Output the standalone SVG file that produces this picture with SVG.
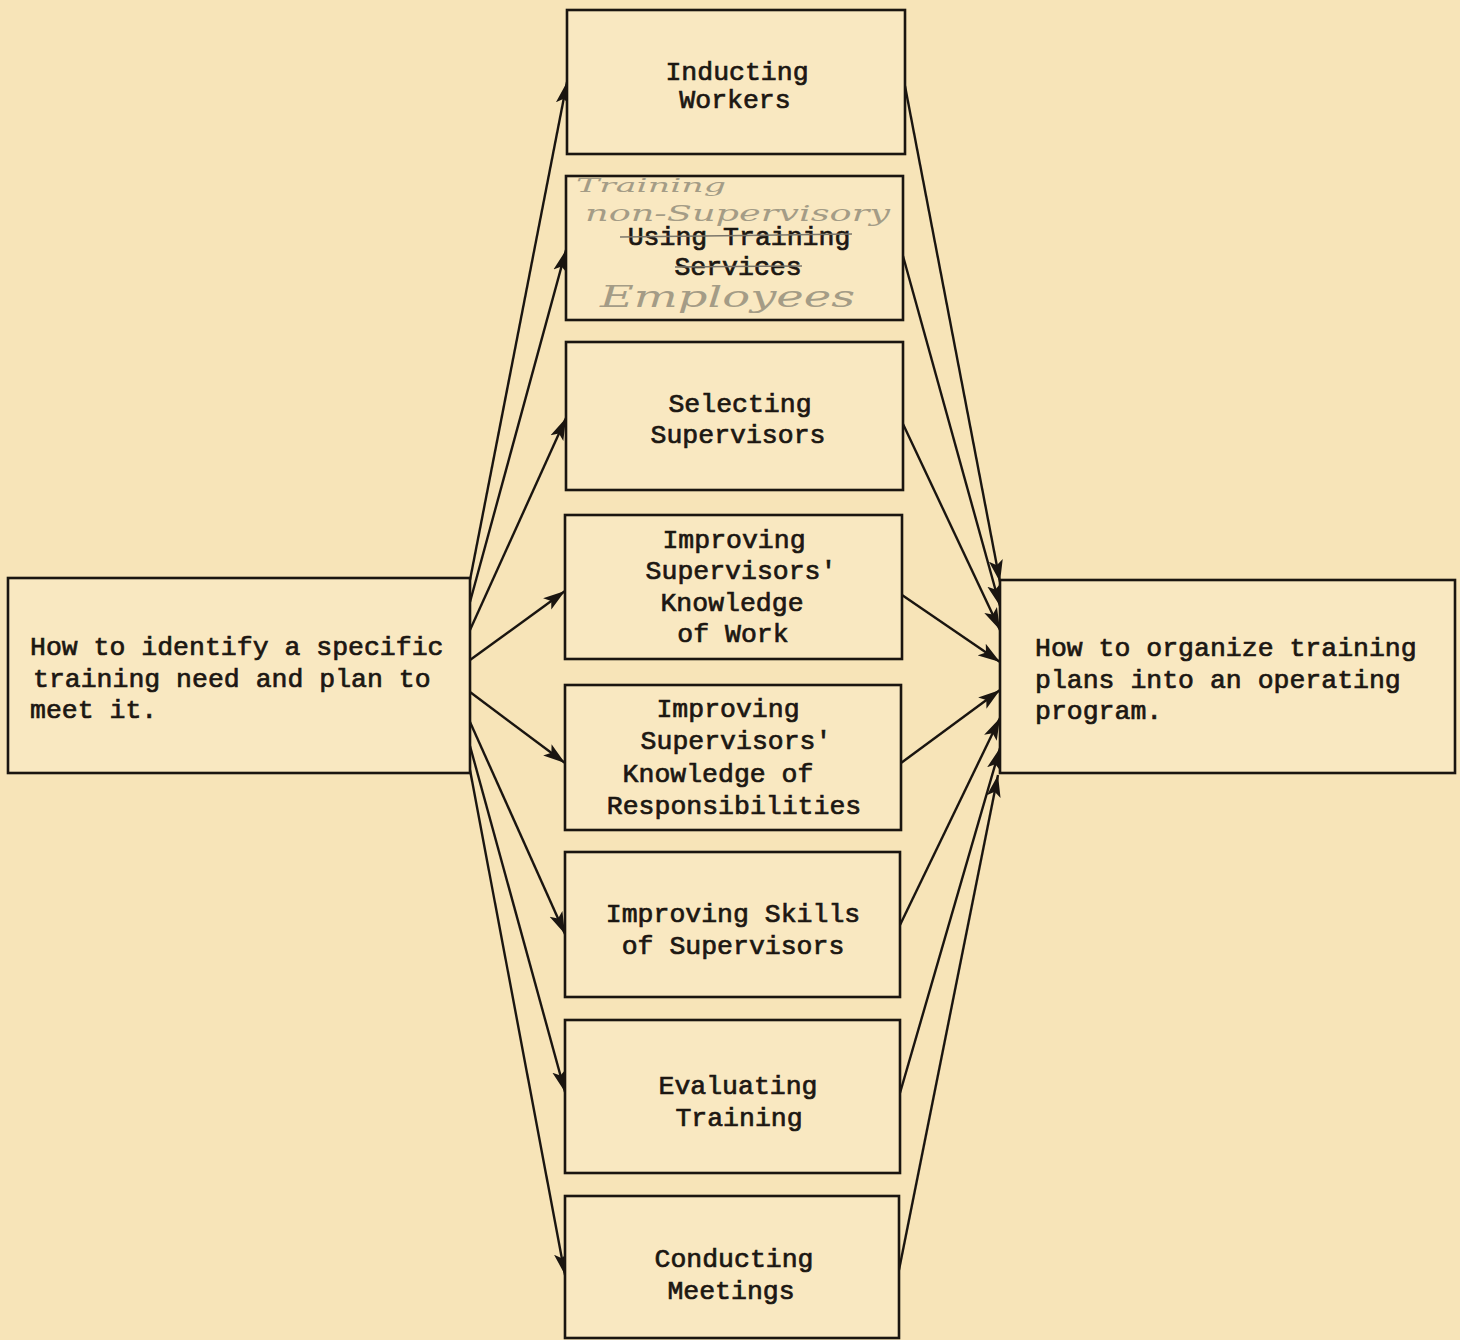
<svg xmlns="http://www.w3.org/2000/svg" width="1460" height="1340" viewBox="0 0 1460 1340">
<defs>
<marker id="ah" markerUnits="userSpaceOnUse" markerWidth="24" markerHeight="16" refX="22" refY="8" orient="auto"><path d="M0,1 L22,8 L0,15 L5,8 Z" fill="#1a1510"/></marker>
<style>
.box{fill:#f9e8c1;stroke:#1a1510;stroke-width:2.6}
.t{font-family:"Liberation Mono","DejaVu Sans Mono",monospace;font-size:26.5px;fill:#1c1712;stroke:#1c1712;stroke-width:0.7}
.m{text-anchor:middle}
.c{stroke:#1a1510;stroke-width:2.4;fill:none;marker-end:url(#ah)}
.hw{font-family:"DejaVu Serif",serif;font-style:italic;fill:#8f8a78;opacity:0.8}
.pen{stroke:#7a756a;stroke-width:1.5;fill:none}
</style>
</defs>
<rect width="1460" height="1340" fill="#f7e4b8"/>
<g id="connectors">
<line class="c" x1="470" y1="580" x2="567" y2="82"/>
<line class="c" x1="470" y1="602" x2="566" y2="250"/>
<line class="c" x1="470" y1="630" x2="566" y2="418"/>
<line class="c" x1="470" y1="660" x2="565" y2="591"/>
<line class="c" x1="470" y1="692" x2="565" y2="763"/>
<line class="c" x1="470" y1="722" x2="565" y2="934"/>
<line class="c" x1="470" y1="746" x2="565" y2="1092"/>
<line class="c" x1="470" y1="770" x2="565" y2="1275"/>
<line class="c" x1="905" y1="86" x2="1000" y2="582"/>
<line class="c" x1="903" y1="256" x2="1000" y2="606"/>
<line class="c" x1="903" y1="424" x2="1000" y2="630"/>
<line class="c" x1="902" y1="595" x2="1000" y2="662"/>
<line class="c" x1="901" y1="763" x2="1000" y2="690"/>
<line class="c" x1="900" y1="925" x2="1000" y2="718"/>
<line class="c" x1="900" y1="1093" x2="1000" y2="748"/>
<line class="c" x1="899" y1="1270" x2="998" y2="775"/>
</g>
<g id="left">
<rect class="box" x="8" y="578" width="462" height="195"/>
<text class="t" x="30" y="655">How to identify a specific</text>
<text class="t" x="33" y="687">training need and plan to</text>
<text class="t" x="30" y="718">meet it.</text>
</g>
<g id="right">
<rect class="box" x="1000" y="580" width="455" height="193"/>
<text class="t" x="1035" y="656">How to organize training</text>
<text class="t" x="1035" y="688">plans into an operating</text>
<text class="t" x="1035" y="719">program.</text>
</g>
<g id="n1">
<rect class="box" x="567" y="10" width="338" height="144"/>
<text class="t m" x="737" y="80">Inducting</text>
<text class="t m" x="735" y="108">Workers</text>
</g>
<g id="n2">
<rect class="box" x="566" y="176" width="337" height="144"/>
<text class="t m" x="739" y="245">Using Training</text>
<text class="t m" x="738" y="275">Services</text>
<line class="pen" x1="620" y1="237" x2="852" y2="234"/>
<line class="pen" x1="675" y1="267" x2="802" y2="266"/>
<text class="hw" x="576" y="192" font-size="18" textLength="150" lengthAdjust="spacingAndGlyphs">Training</text>
<text class="hw" x="585" y="221" font-size="22" textLength="305" lengthAdjust="spacingAndGlyphs">non-Supervisory</text>
<text class="hw" x="600" y="307" font-size="30" textLength="255" lengthAdjust="spacingAndGlyphs">Employees</text>
</g>
<g id="n3">
<rect class="box" x="566" y="342" width="337" height="148"/>
<text class="t m" x="740" y="412">Selecting</text>
<text class="t m" x="738" y="443">Supervisors</text>
</g>
<g id="n4">
<rect class="box" x="565" y="515" width="337" height="144"/>
<text class="t m" x="734" y="548">Improving</text>
<text class="t m" x="741" y="579">Supervisors'</text>
<text class="t m" x="732" y="611">Knowledge</text>
<text class="t m" x="733" y="642">of Work</text>
</g>
<g id="n5">
<rect class="box" x="565" y="685" width="336" height="145"/>
<text class="t m" x="728" y="717">Improving</text>
<text class="t m" x="736" y="749">Supervisors'</text>
<text class="t m" x="718" y="782">Knowledge of</text>
<text class="t m" x="734" y="814">Responsibilities</text>
</g>
<g id="n6">
<rect class="box" x="565" y="852" width="335" height="145"/>
<text class="t m" x="733" y="922">Improving Skills</text>
<text class="t m" x="733" y="954">of Supervisors</text>
</g>
<g id="n7">
<rect class="box" x="565" y="1020" width="335" height="153"/>
<text class="t m" x="738" y="1094">Evaluating</text>
<text class="t m" x="739" y="1126">Training</text>
</g>
<g id="n8">
<rect class="box" x="565" y="1196" width="334" height="142"/>
<text class="t m" x="734" y="1267">Conducting</text>
<text class="t m" x="731" y="1299">Meetings</text>
</g>
</svg>
